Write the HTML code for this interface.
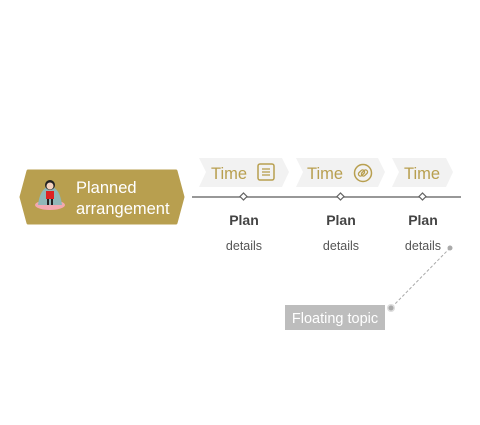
<!DOCTYPE html>
<html><head><meta charset="utf-8"><style>
body{margin:0;width:480px;height:420px;background:#fff;overflow:hidden}
text{font-family:"Liberation Sans",sans-serif}
</style></head><body>
<svg width="480" height="420" viewBox="0 0 480 420">
<polygon points="28,171 176,171 183,197 176,223 28,223 21,197" fill="#b89f4f" stroke="#b89f4f" stroke-width="3" stroke-linejoin="round"/>
<g>
<ellipse cx="50" cy="205" rx="15" ry="5" fill="#f3a8b0"/>
<path d="M38 205 Q40 188 50 186 Q60 188 62 205Z" fill="#8fb7b8"/>
<circle cx="50" cy="185" r="5" fill="#222"/>
<circle cx="50" cy="186" r="3.5" fill="#f5d3c0"/>
<rect x="46" y="191" width="8" height="8" fill="#d22"/>
<rect x="47" y="199" width="2" height="6" fill="#222"/><rect x="51" y="199" width="2" height="6" fill="#222"/>
</g>
<text x="76" y="193" font-size="16.5" fill="#fff">Planned</text>
<text x="76" y="214" font-size="16.5" fill="#fff">arrangement</text>
<polygon points="199,158 282,158 289,172 282,187 199,187 206,172" fill="#f2f2f2"/>
<polygon points="296,158 378,158 385,172 378,187 296,187 303,172" fill="#f2f2f2"/>
<polygon points="392,158 446,158 453,172 446,187 392,187 399,172" fill="#f2f2f2"/>
<text x="211" y="179" font-size="16.5" fill="#b89f4f">Time</text>
<text x="307" y="179" font-size="16.5" fill="#b89f4f">Time</text>
<text x="404" y="179" font-size="16.5" fill="#b89f4f">Time</text>
<rect x="258" y="164" width="16" height="16" rx="2" fill="none" stroke="#b89f4f" stroke-width="1.5"/>
<line x1="262" y1="169" x2="270" y2="169" stroke="#b89f4f" stroke-width="1.3"/>
<line x1="262" y1="172" x2="270" y2="172" stroke="#b89f4f" stroke-width="1.3"/>
<line x1="262" y1="175" x2="270" y2="175" stroke="#b89f4f" stroke-width="1.3"/>
<circle cx="363" cy="173" r="8.5" fill="none" stroke="#b89f4f" stroke-width="1.5"/>
<g fill="none" stroke="#b89f4f" stroke-width="1.3">
<rect x="358" y="171" width="7" height="4" rx="2" transform="rotate(-45 361.5 173)"/>
<rect x="361" y="171" width="7" height="4" rx="2" transform="rotate(-45 364.5 173)"/>
</g>
<line x1="192" y1="197" x2="461" y2="197" stroke="#777" stroke-width="1.5"/>
<g fill="#fff" stroke="#666" stroke-width="1.2">
<rect x="241" y="194" width="5" height="5" transform="rotate(45 243.5 196.5)"/>
<rect x="338" y="194" width="5" height="5" transform="rotate(45 340.5 196.5)"/>
<rect x="420" y="194" width="5" height="5" transform="rotate(45 422.5 196.5)"/>
</g>
<g font-size="14" font-weight="bold" fill="#444" text-anchor="middle">
<text x="244" y="225">Plan</text><text x="341" y="225">Plan</text><text x="423" y="225">Plan</text>
</g>
<g font-size="12.5" fill="#555" text-anchor="middle">
<text x="244" y="250">details</text><text x="341" y="250">details</text><text x="423" y="250">details</text>
</g>
<line x1="450" y1="248" x2="391" y2="308" stroke="#aaa" stroke-width="1" stroke-dasharray="3,2"/>
<circle cx="450" cy="248" r="2.5" fill="#aaa"/>
<circle cx="391" cy="308" r="4" fill="#ddd"/><circle cx="391" cy="308" r="2.5" fill="#aaa"/>
<rect x="285" y="305" width="100" height="25" fill="#bdbdbd"/>
<text x="335" y="323" font-size="14.5" fill="#fff" text-anchor="middle">Floating topic</text>
</svg>
</body></html>
